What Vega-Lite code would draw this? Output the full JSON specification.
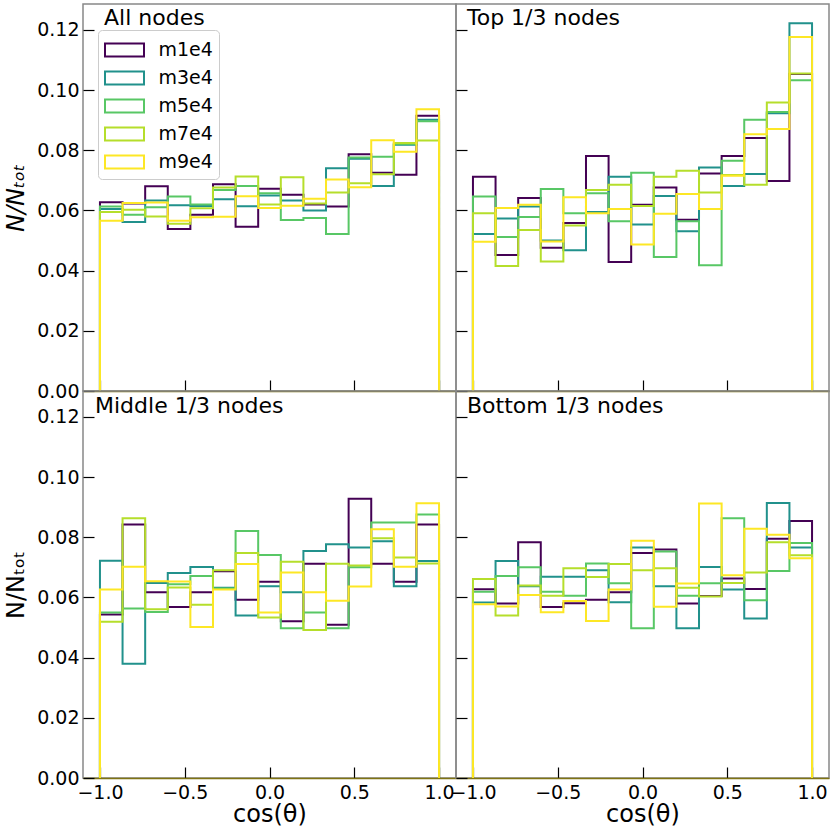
{
  "$schema": "https://vega.github.io/schema/vega-lite/v6.json",
  "padding": {"left": 3, "top": 3, "right": 2, "bottom": 0},
  "background": "white",
  "datasets": {
    "hist": [
      {"p":"A","i":0,"x":-1,"m1e4":0,"m3e4":0,"m5e4":0,"m7e4":0,"m9e4":0},
      {"p":"A","i":1,"x":-1,"m1e4":0.0627,"m3e4":0.0605,"m5e4":0.0613,"m7e4":0.0595,"m9e4":0.0566},
      {"p":"A","i":2,"x":-0.8667,"m1e4":0.0623,"m3e4":0.0562,"m5e4":0.0586,"m7e4":0.0602,"m9e4":0.0625},
      {"p":"A","i":3,"x":-0.7333,"m1e4":0.068,"m3e4":0.0633,"m5e4":0.0611,"m7e4":0.058,"m9e4":0.0626},
      {"p":"A","i":4,"x":-0.6,"m1e4":0.0538,"m3e4":0.0617,"m5e4":0.0646,"m7e4":0.0556,"m9e4":0.0566},
      {"p":"A","i":5,"x":-0.4667,"m1e4":0.0586,"m3e4":0.0615,"m5e4":0.062,"m7e4":0.0607,"m9e4":0.0577},
      {"p":"A","i":6,"x":-0.3333,"m1e4":0.0687,"m3e4":0.0637,"m5e4":0.0668,"m7e4":0.0676,"m9e4":0.0579},
      {"p":"A","i":7,"x":-0.2,"m1e4":0.0546,"m3e4":0.0614,"m5e4":0.0681,"m7e4":0.0713,"m9e4":0.0647},
      {"p":"A","i":8,"x":-0.0667,"m1e4":0.0672,"m3e4":0.065,"m5e4":0.0657,"m7e4":0.062,"m9e4":0.0608},
      {"p":"A","i":9,"x":0.0667,"m1e4":0.0652,"m3e4":0.0633,"m5e4":0.0568,"m7e4":0.071,"m9e4":0.0616},
      {"p":"A","i":10,"x":0.2,"m1e4":0.062,"m3e4":0.06,"m5e4":0.0575,"m7e4":0.0623,"m9e4":0.0639},
      {"p":"A","i":11,"x":0.3333,"m1e4":0.0613,"m3e4":0.074,"m5e4":0.0522,"m7e4":0.066,"m9e4":0.0703},
      {"p":"A","i":12,"x":0.4667,"m1e4":0.0787,"m3e4":0.0772,"m5e4":0.0776,"m7e4":0.069,"m9e4":0.0677},
      {"p":"A","i":13,"x":0.6,"m1e4":0.0725,"m3e4":0.0681,"m5e4":0.0778,"m7e4":0.072,"m9e4":0.0833},
      {"p":"A","i":14,"x":0.7333,"m1e4":0.0719,"m3e4":0.0818,"m5e4":0.0821,"m7e4":0.0824,"m9e4":0.0795},
      {"p":"A","i":15,"x":0.8667,"m1e4":0.0915,"m3e4":0.0901,"m5e4":0.0896,"m7e4":0.0832,"m9e4":0.0936},
      {"p":"A","i":16,"x":1,"m1e4":0,"m3e4":0,"m5e4":0,"m7e4":0,"m9e4":0},
      {"p":"T","i":0,"x":-1,"m1e4":0,"m3e4":0,"m5e4":0,"m7e4":0,"m9e4":0},
      {"p":"T","i":1,"x":-1,"m1e4":0.0712,"m3e4":0.0522,"m5e4":0.0646,"m7e4":0.0591,"m9e4":0.0496},
      {"p":"T","i":2,"x":-0.8667,"m1e4":0.0452,"m3e4":0.0573,"m5e4":0.0512,"m7e4":0.0415,"m9e4":0.0608},
      {"p":"T","i":3,"x":-0.7333,"m1e4":0.0641,"m3e4":0.0613,"m5e4":0.0578,"m7e4":0.0535,"m9e4":0.0619},
      {"p":"T","i":4,"x":-0.6,"m1e4":0.0476,"m3e4":0.05,"m5e4":0.0671,"m7e4":0.043,"m9e4":0.0497},
      {"p":"T","i":5,"x":-0.4667,"m1e4":0.0558,"m3e4":0.0468,"m5e4":0.0591,"m7e4":0.055,"m9e4":0.0644},
      {"p":"T","i":6,"x":-0.3333,"m1e4":0.0781,"m3e4":0.0595,"m5e4":0.0657,"m7e4":0.0668,"m9e4":0.0591},
      {"p":"T","i":7,"x":-0.2,"m1e4":0.0429,"m3e4":0.0712,"m5e4":0.0564,"m7e4":0.0685,"m9e4":0.0605},
      {"p":"T","i":8,"x":-0.0667,"m1e4":0.0619,"m3e4":0.0553,"m5e4":0.0725,"m7e4":0.0615,"m9e4":0.0487},
      {"p":"T","i":9,"x":0.0667,"m1e4":0.0676,"m3e4":0.0648,"m5e4":0.0445,"m7e4":0.0712,"m9e4":0.0589},
      {"p":"T","i":10,"x":0.2,"m1e4":0.0569,"m3e4":0.0531,"m5e4":0.0564,"m7e4":0.0732,"m9e4":0.0655},
      {"p":"T","i":11,"x":0.3333,"m1e4":0.0723,"m3e4":0.0743,"m5e4":0.0418,"m7e4":0.066,"m9e4":0.0605},
      {"p":"T","i":12,"x":0.4667,"m1e4":0.0781,"m3e4":0.0681,"m5e4":0.0765,"m7e4":0.0718,"m9e4":0.0715},
      {"p":"T","i":13,"x":0.6,"m1e4":0.0841,"m3e4":0.0721,"m5e4":0.0901,"m7e4":0.0685,"m9e4":0.0853},
      {"p":"T","i":14,"x":0.7333,"m1e4":0.0698,"m3e4":0.0923,"m5e4":0.0927,"m7e4":0.0959,"m9e4":0.0871},
      {"p":"T","i":15,"x":0.8667,"m1e4":0.1053,"m3e4":0.1222,"m5e4":0.1033,"m7e4":0.1055,"m9e4":0.1176},
      {"p":"T","i":16,"x":1,"m1e4":0,"m3e4":0,"m5e4":0,"m7e4":0,"m9e4":0},
      {"p":"M","i":0,"x":-1,"m1e4":0,"m3e4":0,"m5e4":0,"m7e4":0,"m9e4":0},
      {"p":"M","i":1,"x":-1,"m1e4":0.0543,"m3e4":0.0722,"m5e4":0.055,"m7e4":0.0519,"m9e4":0.0626},
      {"p":"M","i":2,"x":-0.8667,"m1e4":0.0842,"m3e4":0.038,"m5e4":0.0563,"m7e4":0.0863,"m9e4":0.0702},
      {"p":"M","i":3,"x":-0.7333,"m1e4":0.0617,"m3e4":0.0648,"m5e4":0.0552,"m7e4":0.0561,"m9e4":0.0654},
      {"p":"M","i":4,"x":-0.6,"m1e4":0.0568,"m3e4":0.0681,"m5e4":0.0644,"m7e4":0.0633,"m9e4":0.0653},
      {"p":"M","i":5,"x":-0.4667,"m1e4":0.0617,"m3e4":0.0701,"m5e4":0.0671,"m7e4":0.0576,"m9e4":0.0502},
      {"p":"M","i":6,"x":-0.3333,"m1e4":0.0687,"m3e4":0.0632,"m5e4":0.063,"m7e4":0.069,"m9e4":0.0626},
      {"p":"M","i":7,"x":-0.2,"m1e4":0.0592,"m3e4":0.054,"m5e4":0.0821,"m7e4":0.0748,"m9e4":0.0711},
      {"p":"M","i":8,"x":-0.0667,"m1e4":0.0652,"m3e4":0.0637,"m5e4":0.0741,"m7e4":0.0533,"m9e4":0.055},
      {"p":"M","i":9,"x":0.0667,"m1e4":0.0521,"m3e4":0.0617,"m5e4":0.0498,"m7e4":0.0719,"m9e4":0.0683},
      {"p":"M","i":10,"x":0.2,"m1e4":0.0712,"m3e4":0.0754,"m5e4":0.055,"m7e4":0.0492,"m9e4":0.0617},
      {"p":"M","i":11,"x":0.3333,"m1e4":0.0509,"m3e4":0.0777,"m5e4":0.0498,"m7e4":0.0712,"m9e4":0.0589},
      {"p":"M","i":12,"x":0.4667,"m1e4":0.0928,"m3e4":0.0766,"m5e4":0.07,"m7e4":0.0706,"m9e4":0.0636},
      {"p":"M","i":13,"x":0.6,"m1e4":0.0712,"m3e4":0.0787,"m5e4":0.0849,"m7e4":0.0797,"m9e4":0.0827},
      {"p":"M","i":14,"x":0.7333,"m1e4":0.0652,"m3e4":0.0637,"m5e4":0.0849,"m7e4":0.0733,"m9e4":0.0702},
      {"p":"M","i":15,"x":0.8667,"m1e4":0.0842,"m3e4":0.0721,"m5e4":0.0876,"m7e4":0.0713,"m9e4":0.0913},
      {"p":"M","i":16,"x":1,"m1e4":0,"m3e4":0,"m5e4":0,"m7e4":0,"m9e4":0},
      {"p":"B","i":0,"x":-1,"m1e4":0,"m3e4":0,"m5e4":0,"m7e4":0,"m9e4":0},
      {"p":"B","i":1,"x":-1,"m1e4":0.0627,"m3e4":0.0583,"m5e4":0.0619,"m7e4":0.0661,"m9e4":0.0577},
      {"p":"B","i":2,"x":-0.8667,"m1e4":0.058,"m3e4":0.0721,"m5e4":0.0671,"m7e4":0.054,"m9e4":0.057},
      {"p":"B","i":3,"x":-0.7333,"m1e4":0.0783,"m3e4":0.0637,"m5e4":0.07,"m7e4":0.064,"m9e4":0.0608},
      {"p":"B","i":4,"x":-0.6,"m1e4":0.0568,"m3e4":0.0669,"m5e4":0.0619,"m7e4":0.0606,"m9e4":0.0551},
      {"p":"B","i":5,"x":-0.4667,"m1e4":0.0581,"m3e4":0.0669,"m5e4":0.0606,"m7e4":0.0697,"m9e4":0.0588},
      {"p":"B","i":6,"x":-0.3333,"m1e4":0.0592,"m3e4":0.069,"m5e4":0.0713,"m7e4":0.0668,"m9e4":0.0522},
      {"p":"B","i":7,"x":-0.2,"m1e4":0.0617,"m3e4":0.0584,"m5e4":0.0647,"m7e4":0.0711,"m9e4":0.0626},
      {"p":"B","i":8,"x":-0.0667,"m1e4":0.0748,"m3e4":0.0766,"m5e4":0.0498,"m7e4":0.069,"m9e4":0.0788},
      {"p":"B","i":9,"x":0.0667,"m1e4":0.0759,"m3e4":0.0637,"m5e4":0.0753,"m7e4":0.0697,"m9e4":0.0569},
      {"p":"B","i":10,"x":0.2,"m1e4":0.058,"m3e4":0.0498,"m5e4":0.0606,"m7e4":0.0632,"m9e4":0.0646},
      {"p":"B","i":11,"x":0.3333,"m1e4":0.0605,"m3e4":0.0701,"m5e4":0.0647,"m7e4":0.0603,"m9e4":0.0912},
      {"p":"B","i":12,"x":0.4667,"m1e4":0.0663,"m3e4":0.0626,"m5e4":0.0863,"m7e4":0.0648,"m9e4":0.0674},
      {"p":"B","i":13,"x":0.6,"m1e4":0.0628,"m3e4":0.053,"m5e4":0.0591,"m7e4":0.0683,"m9e4":0.0828},
      {"p":"B","i":14,"x":0.7333,"m1e4":0.0795,"m3e4":0.0914,"m5e4":0.0688,"m7e4":0.0783,"m9e4":0.0808},
      {"p":"B","i":15,"x":0.8667,"m1e4":0.0854,"m3e4":0.0766,"m5e4":0.0781,"m7e4":0.074,"m9e4":0.073},
      {"p":"B","i":16,"x":1,"m1e4":0,"m3e4":0,"m5e4":0,"m7e4":0,"m9e4":0}
    ]
  },
  "data": {"name": "hist"},
  "columns": 2,
  "spacing": 0,
  "bounds": "flush",
  "resolve": {"legend": {"color": "independent"}},
  "concat": [
    {
      "width": 373, "height": 387,
      "title": {"text": "All nodes", "dx": 21, "dy": 30},
      "transform": [
        {"filter": "datum.p == 'A'"},
        {"fold": ["m1e4", "m3e4", "m5e4", "m7e4", "m9e4"], "as": ["run", "frac"]}
      ],
      "mark": {"type": "line", "interpolate": "step-after", "strokeWidth": 2},
      "encoding": {
        "x": {"field": "x", "type": "quantitative", "scale": {"domain": [-1.1, 1.1], "nice": false, "zero": false},
              "axis": {"values": [-1, -0.5, 0, 0.5, 1], "labels": false, "title": null}},
        "y": {"field": "frac", "type": "quantitative", "scale": {"domain": [0, 0.1286], "nice": false},
              "axis": {"values": [0, 0.02, 0.04, 0.06, 0.08, 0.1, 0.12], "format": ".2f", "title": "N/Nₜₒₜ", "titleFontStyle": "italic", "domain": false}},
        "color": {"field": "run", "type": "nominal",
                  "scale": {"domain": ["m1e4", "m3e4", "m5e4", "m7e4", "m9e4"], "range": ["#440154", "#21918c", "#58c765", "#b5de2b", "#fde725"]},
                  "legend": {"orient": "none", "legendX": 15, "legendY": 26, "title": null,
                             "symbolType": "M-1.5,-0.5H1.5V0.5H-1.5Z", "symbolSize": 676, "symbolStrokeWidth": 2,
                             "symbolOffset": 6.5,
                             "symbolFillColor": "transparent", "labelFont": "DejaVu Sans", "labelFontSize": 19,
                             "labelColor": "black", "labelOffset": 20, "rowPadding": 3, "padding": 6,
                             "strokeColor": "#cccccc", "fillColor": "rgba(255,255,255,0.85)", "cornerRadius": 4}},
        "order": {"field": "i", "type": "quantitative"}
      }
    },
    {
      "width": 373, "height": 387,
      "title": {"text": "Top 1/3 nodes", "dx": 11, "dy": 30},
      "transform": [
        {"filter": "datum.p == 'T'"},
        {"fold": ["m1e4", "m3e4", "m5e4", "m7e4", "m9e4"], "as": ["run", "frac"]}
      ],
      "mark": {"type": "line", "interpolate": "step-after", "strokeWidth": 2},
      "encoding": {
        "x": {"field": "x", "type": "quantitative", "scale": {"domain": [-1.1, 1.1], "nice": false, "zero": false},
              "axis": {"values": [-1, -0.5, 0, 0.5, 1], "labels": false, "title": null}},
        "y": {"field": "frac", "type": "quantitative", "scale": {"domain": [0, 0.1286], "nice": false},
              "axis": {"values": [0, 0.02, 0.04, 0.06, 0.08, 0.1, 0.12], "labels": false, "title": null, "domain": false}},
        "color": {"field": "run", "type": "nominal",
                  "scale": {"domain": ["m1e4", "m3e4", "m5e4", "m7e4", "m9e4"], "range": ["#440154", "#21918c", "#58c765", "#b5de2b", "#fde725"]},
                  "legend": null},
        "order": {"field": "i", "type": "quantitative"}
      }
    },
    {
      "width": 373, "height": 387,
      "title": {"text": "Middle 1/3 nodes", "dx": 12, "dy": 31},
      "transform": [
        {"filter": "datum.p == 'M'"},
        {"fold": ["m1e4", "m3e4", "m5e4", "m7e4", "m9e4"], "as": ["run", "frac"]}
      ],
      "mark": {"type": "line", "interpolate": "step-after", "strokeWidth": 2},
      "encoding": {
        "x": {"field": "x", "type": "quantitative", "scale": {"domain": [-1.1, 1.1], "nice": false, "zero": false},
              "axis": {"values": [-1, -0.5, 0, 0.5, 1], "format": ".1f", "title": "cos(θ)"}},
        "y": {"field": "frac", "type": "quantitative", "scale": {"domain": [0, 0.1286], "nice": false},
              "axis": {"values": [0, 0.02, 0.04, 0.06, 0.08, 0.1, 0.12], "format": ".2f", "title": "N/Nₜₒₜ", "domain": false}},
        "color": {"field": "run", "type": "nominal",
                  "scale": {"domain": ["m1e4", "m3e4", "m5e4", "m7e4", "m9e4"], "range": ["#440154", "#21918c", "#58c765", "#b5de2b", "#fde725"]},
                  "legend": null},
        "order": {"field": "i", "type": "quantitative"}
      }
    },
    {
      "width": 373, "height": 387,
      "title": {"text": "Bottom 1/3 nodes", "dx": 11, "dy": 31},
      "transform": [
        {"filter": "datum.p == 'B'"},
        {"fold": ["m1e4", "m3e4", "m5e4", "m7e4", "m9e4"], "as": ["run", "frac"]}
      ],
      "mark": {"type": "line", "interpolate": "step-after", "strokeWidth": 2},
      "encoding": {
        "x": {"field": "x", "type": "quantitative", "scale": {"domain": [-1.1, 1.1], "nice": false, "zero": false},
              "axis": {"values": [-1, -0.5, 0, 0.5, 1], "format": ".1f", "title": "cos(θ)"}},
        "y": {"field": "frac", "type": "quantitative", "scale": {"domain": [0, 0.1286], "nice": false},
              "axis": {"values": [0, 0.02, 0.04, 0.06, 0.08, 0.1, 0.12], "labels": false, "title": null, "domain": false}},
        "color": {"field": "run", "type": "nominal",
                  "scale": {"domain": ["m1e4", "m3e4", "m5e4", "m7e4", "m9e4"], "range": ["#440154", "#21918c", "#58c765", "#b5de2b", "#fde725"]},
                  "legend": null},
        "order": {"field": "i", "type": "quantitative"}
      }
    }
  ],
  "config": {
    "font": "DejaVu Sans",
    "view": {"stroke": "#888888", "strokeWidth": 1.5},
    "concat": {"spacing": 0},
    "title": {"anchor": "start", "frame": "group", "orient": "top", "offset": 0, "baseline": "alphabetic",
              "font": "DejaVu Sans", "fontSize": 22, "fontWeight": "normal", "color": "black"},
    "axis": {
      "grid": false,
      "labelFont": "DejaVu Sans", "labelFontSize": 19, "labelColor": "black",
      "labelOverlap": false, "labelFlush": false, "labelBound": false,
      "titleFont": "DejaVu Sans", "titleFontSize": 24, "titleFontWeight": "normal", "titleColor": "black",
      "tickColor": "black", "tickSize": -11, "tickWidth": 1.2,
      "labelPadding": 15, "titlePadding": 8
    },
    "axisX": {"domain": true, "domainColor": "#7f7312", "domainWidth": 1.5, "labelPadding": 16, "titlePadding": 0}
  }
}
